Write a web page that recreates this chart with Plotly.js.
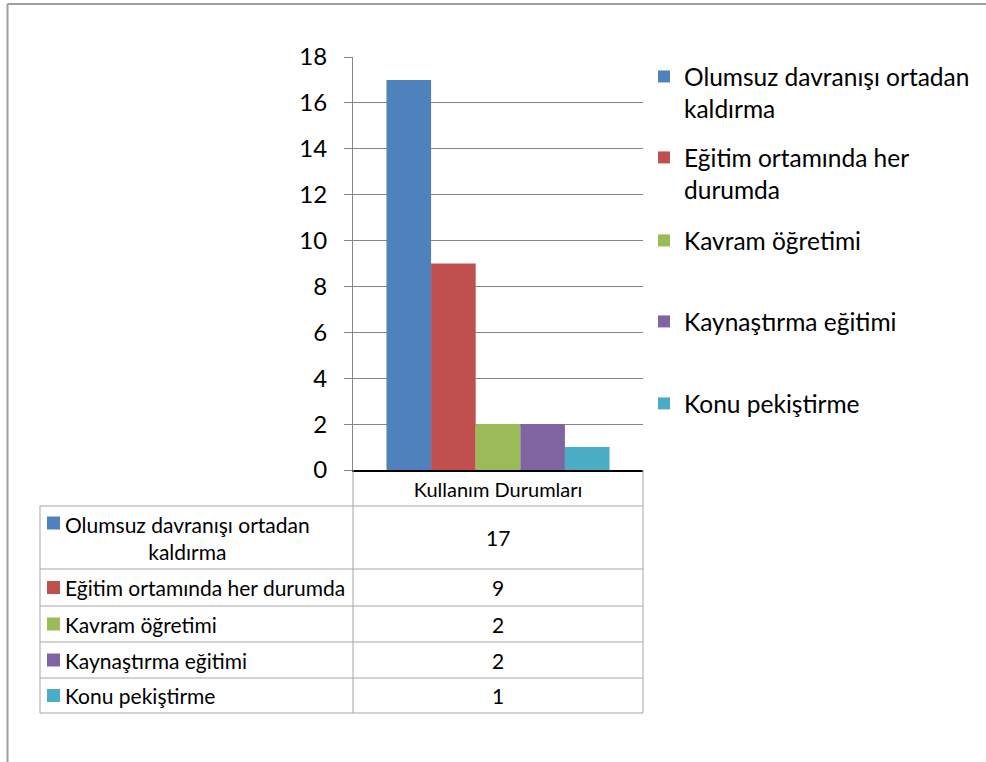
<!DOCTYPE html>
<html>
<head>
<meta charset="utf-8">
<script src="https://cdn.plot.ly/plotly-3.0.1.min.js"></script>
<style>html,body{margin:0;padding:0;background:#fff;}#chart{width:986px;height:762px;}</style>
</head>
<body>
<div id="chart"></div>
<script>
const categories = ['Kullanım Durumları'];
const seriesNames = ['Olumsuz davranışı ortadan kaldırma', 'Eğitim ortamında her durumda', 'Kavram öğretimi', 'Kaynaştırma eğitimi', 'Konu pekiştirme'];
const legendLabels = ['Olumsuz davranışı ortadan<br>kaldırma', 'Eğitim ortamında her<br>durumda', 'Kavram öğretimi', 'Kaynaştırma eğitimi', 'Konu pekiştirme'];
const tableLabels = ['Olumsuz davranışı ortadan<br>kaldırma', 'Eğitim ortamında her durumda', 'Kavram öğretimi', 'Kaynaştırma eğitimi', 'Konu pekiştirme'];
const values = [17, 9, 2, 2, 1];
const colors = ['#4F81BD', '#C0504D', '#9BBB59', '#8064A2', '#4BACC6'];
const yTickVals = [0, 2, 4, 6, 8, 10, 12, 14, 16, 18];

// pixel -> paper helpers (plot area geometry)
const W = 986, H = 762;
const L = 353, R = 643, T = 57, B = 470;
const px = v => (v - L) / (R - L);
const py = v => (B - v) / (B - T);

const FONT = 'Lato, "Open Sans", sans-serif';
const legendNames = ['legend', 'legend2', 'legend3', 'legend4', 'legend5'];
const legendTops = [54, 135, 218, 299, 381];

const traces = seriesNames.map((n, i) => ({
  type: 'bar',
  name: legendLabels[i],
  x: categories,
  y: [values[i]],
  marker: {color: colors[i], line: {width: 0}},
  legend: legendNames[i],
  hoverinfo: 'skip'
}));

const layout = {
  width: W, height: H,
  margin: {l: L, r: W - R, t: T, b: H - B, autoexpand: false},
  paper_bgcolor: '#fff', plot_bgcolor: '#fff',
  font: {family: FONT, color: '#000'},
  barmode: 'group', bargap: 0.2308, bargroupgap: 0,
  showlegend: true,
  xaxis: {
    type: 'category', showline: true, linecolor: '#000', linewidth: 1.5,
    ticks: '', showgrid: false, zeroline: false,
    tickfont: {family: FONT, size: 20, color: '#000'}, ticklabelstandoff: 1
  },
  yaxis: {
    range: [0, 18], tickvals: yTickVals, ticktext: yTickVals.map(String),
    showline: true, linecolor: '#868686', linewidth: 1,
    ticks: 'outside', ticklen: 8, tickcolor: '#868686', tickwidth: 1,
    showgrid: true, gridcolor: '#868686', gridwidth: 1, zeroline: false,
    tickfont: {family: FONT, size: 24, color: '#000'}, ticklabelstandoff: 12
  },
  shapes: [],
  annotations: []
};

legendNames.forEach((ln, i) => {
  layout[ln] = {
    x: px(644), y: py(legendTops[i]), xanchor: 'left', yanchor: 'top',
    bgcolor: 'rgba(0,0,0,0)', borderwidth: 0, valign: 'top',
    font: {family: FONT, size: 24.5, color: '#000'}, tracegroupgap: 0
  };
});

// outer chart border
layout.shapes.push({type: 'line', xref: 'paper', yref: 'paper', x0: px(7.5), x1: px(990), y0: py(4), y1: py(4), line: {color: '#a0a0a0', width: 2}});
layout.shapes.push({type: 'line', xref: 'paper', yref: 'paper', x0: px(7.5), x1: px(7.5), y0: py(4), y1: py(770), line: {color: '#a0a0a0', width: 2}});

// data table grid
const rowLines = [506, 569, 606, 642, 678, 713];
const gridColor = '#a6a6a6';
rowLines.forEach(yv => layout.shapes.push({type: 'line', xref: 'paper', yref: 'paper', x0: px(40), x1: px(643), y0: py(yv), y1: py(yv), line: {color: gridColor, width: 1}}));
layout.shapes.push({type: 'line', xref: 'paper', yref: 'paper', x0: px(40), x1: px(40), y0: py(506), y1: py(713), line: {color: gridColor, width: 1}});
layout.shapes.push({type: 'line', xref: 'paper', yref: 'paper', x0: px(353), x1: px(353), y0: py(470), y1: py(713), line: {color: gridColor, width: 1}});
layout.shapes.push({type: 'line', xref: 'paper', yref: 'paper', x0: px(643), x1: px(643), y0: py(470), y1: py(713), line: {color: gridColor, width: 1}});

// table rows
for (let i = 0; i < seriesNames.length; i++) {
  const top = rowLines[i], bot = rowLines[i + 1];
  const mid = (top + bot) / 2;
  const multi = tableLabels[i].indexOf('<br>') >= 0;
  const firstLine = multi ? top + 17 : mid;
  layout.shapes.push({type: 'rect', xref: 'paper', yref: 'paper', x0: px(47), x1: px(60), y0: py(firstLine - 6.5), y1: py(firstLine + 6.5), fillcolor: colors[i], line: {width: 0}});
  layout.annotations.push({xref: 'paper', yref: 'paper', x: px(63), y: py(mid), xanchor: 'left', yanchor: 'middle', align: 'center', showarrow: false, text: tableLabels[i], font: {family: FONT, size: 21, color: '#000'}});
  layout.annotations.push({xref: 'paper', yref: 'paper', x: px(498), y: py(mid), xanchor: 'center', yanchor: 'middle', showarrow: false, text: String(values[i]), font: {family: FONT, size: 21, color: '#000'}});
}

Plotly.newPlot('chart', traces, layout, {staticPlot: true, displayModeBar: false});
</script>
</body>
</html>
